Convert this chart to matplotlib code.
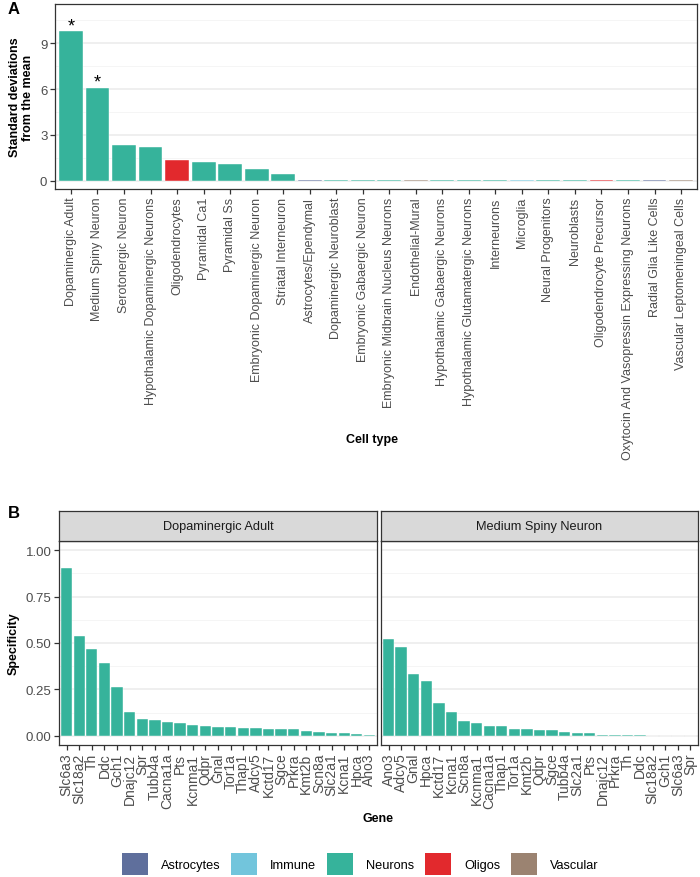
import matplotlib
matplotlib.use('Agg')
import matplotlib.pyplot as plt
from matplotlib.patches import Patch

plt.rcParams['font.family'] = ['Liberation Sans', 'DejaVu Sans']

# Panel A: cell type enrichment
cell_types = ['Dopaminergic Adult', 'Medium Spiny Neuron', 'Serotonergic Neuron',
              'Hypothalamic Dopaminergic Neurons', 'Oligodendrocytes', 'Pyramidal Ca1',
              'Pyramidal Ss', 'Embryonic Dopaminergic Neuron', 'Striatal Interneuron',
              'Astrocytes/Ependymal', 'Dopaminergic Neuroblast', 'Embryonic Gabaergic Neuron',
              'Embryonic Midbrain Nucleus Neurons', 'Endothelial-Mural',
              'Hypothalamic Gabaergic Neurons', 'Hypothalamic Glutamatergic Neurons',
              'Interneurons', 'Microglia', 'Neural Progenitors', 'Neuroblasts',
              'Oligodendrocyte Precursor', 'Oxytocin And Vasopressin Expressing Neurons',
              'Radial Glia Like Cells', 'Vascular Leptomeningeal Cells']
sd_from_mean = [9.80, 6.09, 2.34, 2.23, 1.33, 1.20, 1.11, 0.76, 0.41,
                0.03, 0.03, 0.03, 0.03, 0.03, 0.03, 0.03, 0.03, 0.03,
                0.03, 0.03, 0.03, 0.03, 0.03, 0.03]
cell_class = ['Neurons', 'Neurons', 'Neurons', 'Neurons', 'Oligos', 'Neurons',
              'Neurons', 'Neurons', 'Neurons', 'Astrocytes', 'Neurons', 'Neurons',
              'Neurons', 'Vascular', 'Neurons', 'Neurons', 'Neurons', 'Immune',
              'Neurons', 'Neurons', 'Oligos', 'Neurons', 'Astrocytes', 'Vascular']
significant = [True, True] + [False] * 22

# Panel B: gene specificity per cell type
genes_da = ['Slc6a3', 'Slc18a2', 'Th', 'Ddc', 'Gch1', 'Dnajc12', 'Spr', 'Tubb4a',
            'Cacna1a', 'Pts', 'Kcnma1', 'Qdpr', 'Gnal', 'Tor1a', 'Thap1', 'Adcy5',
            'Kctd17', 'Sgce', 'Prkra', 'Kmt2b', 'Scn8a', 'Slc2a1', 'Kcna1', 'Hpca', 'Ano3']
spec_da = [0.905, 0.540, 0.468, 0.393, 0.261, 0.130, 0.090, 0.083, 0.076, 0.068,
           0.057, 0.053, 0.045, 0.045, 0.043, 0.042, 0.038, 0.037, 0.034, 0.028,
           0.022, 0.017, 0.013, 0.010, 0.003]
genes_msn = ['Ano3', 'Adcy5', 'Gnal', 'Hpca', 'Kctd17', 'Kcna1', 'Scn8a', 'Kcnma1',
             'Cacna1a', 'Thap1', 'Tor1a', 'Kmt2b', 'Qdpr', 'Sgce', 'Tubb4a', 'Slc2a1',
             'Pts', 'Dnajc12', 'Prkra', 'Th', 'Ddc', 'Slc18a2', 'Gch1', 'Slc6a3', 'Spr']
spec_msn = [0.523, 0.477, 0.335, 0.294, 0.175, 0.130, 0.082, 0.066, 0.055, 0.055,
            0.038, 0.038, 0.032, 0.030, 0.020, 0.016, 0.013, 0.006, 0.002, 0.002,
            0.002, 0.0, 0.0, 0.0, 0.0]

classes = ['Astrocytes', 'Immune', 'Neurons', 'Oligos', 'Vascular']
class_colors = {'Astrocytes': '#5F6F9C', 'Immune': '#72C5DC', 'Neurons': '#36B39B',
                'Oligos': '#E2292D', 'Vascular': '#9B8371'}

W, H = 700, 878
fig = plt.figure(figsize=(W / 100, H / 100), dpi=100)


def px_axes(x0, y0, x1, y1):
    return fig.add_axes([x0 / W, 1 - y1 / H, (x1 - x0) / W, (y1 - y0) / H])


def style_axes(ax):
    ax.set_facecolor('white')
    for s in ax.spines.values():
        s.set_color('#333333')
        s.set_linewidth(0.9)
    ax.grid(axis='y', which='major', color='#EBEBEB', linewidth=1.1)
    ax.grid(axis='y', which='minor', color='#F4F4F4', linewidth=0.6)
    ax.grid(axis='x', visible=False)
    ax.set_axisbelow(True)
    ax.tick_params(axis='both', which='major', length=3.5, width=0.9, color='#333333',
                   labelcolor='#4D4D4D', pad=2)
    ax.tick_params(axis='both', which='minor', length=0)


# ---- Panel A ----
axA = px_axes(55, 5, 697, 190)
style_axes(axA)
xa = range(len(cell_types))
axA.bar(xa, sd_from_mean, width=0.9, color=[class_colors[c] for c in cell_class],
        edgecolor='white', linewidth=0.3)
for i, (v, sig) in enumerate(zip(sd_from_mean, significant)):
    if sig:
        axA.text(i, v + 0.05, '*', ha='center', va='baseline', fontsize=13, color='black')
axA.set_xlim(-0.6, len(cell_types) - 0.4)
axA.set_ylim(-0.55, 11.57)
axA.set_yticks([0, 3, 6, 9])
axA.set_yticks([1.5, 4.5, 7.5, 10.5], minor=True)
axA.set_xticks(list(xa))
axA.set_xticklabels(cell_types, rotation=90, fontsize=9)
axA.tick_params(axis='y', labelsize=9.5)
axA.set_ylabel('Standard deviations\nfrom the mean', fontsize=9, fontweight='bold', labelpad=4)
fig.text(372 / W, 1 - 440 / H, 'Cell type', ha='center', va='center', fontsize=9,
         fontweight='bold')
fig.text(8 / W, 1 - 9 / H, 'A', ha='left', va='center', fontsize=12, fontweight='bold')

# ---- Panel B ----
fig.text(8 / W, 1 - 513 / H, 'B', ha='left', va='center', fontsize=12, fontweight='bold')
facets = [('Dopaminergic Adult', genes_da, spec_da, 59, 377),
          ('Medium Spiny Neuron', genes_msn, spec_msn, 381, 698)]
for k, (title, genes, spec, x0, x1) in enumerate(facets):
    ax = px_axes(x0, 542, x1, 746)
    style_axes(ax)
    xb = range(len(genes))
    ax.bar(xb, spec, width=0.9, color=class_colors['Neurons'], edgecolor='white',
           linewidth=0.3)
    ax.set_xlim(-0.6, len(genes) - 0.4)
    ax.set_ylim(-0.05, 1.05)
    ax.set_yticks([0, 0.25, 0.5, 0.75, 1.0])
    ax.set_yticks([0.125, 0.375, 0.625, 0.875], minor=True)
    ax.set_xticks(list(xb))
    ax.set_xticklabels(genes, rotation=90, fontsize=10)
    if k == 0:
        ax.set_yticklabels(['0.00', '0.25', '0.50', '0.75', '1.00'], fontsize=9.5)
        ax.set_ylabel('Specificity', fontsize=9, fontweight='bold', labelpad=4)
    else:
        ax.tick_params(axis='y', labelleft=False, length=0)

    strip = px_axes(x0, 512, x1, 542)
    strip.set_facecolor('#D9D9D9')
    strip.set_xticks([])
    strip.set_yticks([])
    for s in strip.spines.values():
        s.set_color('#333333')
        s.set_linewidth(0.9)
    strip.text(0.5, 0.5, title, ha='center', va='center', fontsize=9.2, color='#1A1A1A',
               transform=strip.transAxes)

fig.text(378 / W, 1 - 819 / H, 'Gene', ha='center', va='center', fontsize=9,
         fontweight='bold')

# ---- Legend ----
handles = [Patch(facecolor=class_colors[c], edgecolor='none') for c in classes]
fig.legend(handles, classes, loc='center', bbox_to_anchor=(360 / W, 1 - 865 / H),
           ncol=5, frameon=False, fontsize=9.2, handlelength=2.05, handleheight=2.2,
           handletextpad=1.0, columnspacing=0.85)

fig.savefig('out.png', dpi=100)
